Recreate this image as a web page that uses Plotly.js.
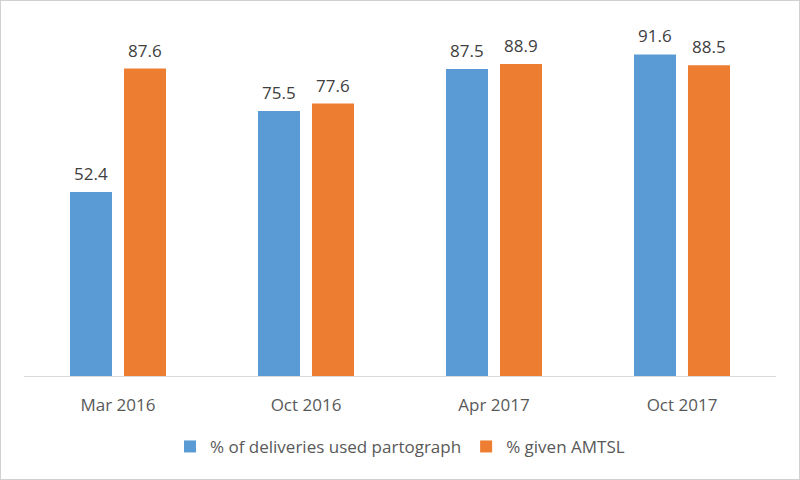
<!DOCTYPE html>
<html>
<head>
<meta charset="utf-8">
<script src="https://cdn.plot.ly/plotly-3.0.1.min.js"></script>
<style>
  html, body { margin: 0; padding: 0; background: #fff; }
  #frame { width: 800px; height: 480px; box-sizing: border-box; border: 1px solid #d0d0d0; }
  #plot { width: 798px; height: 478px; }
</style>
</head>
<body>
<div id="frame"><div id="plot"></div></div>
<script>
const periods = ["Mar 2016", "Oct 2016", "Apr 2017", "Oct 2017"];
const partograph = [52.4, 75.5, 87.5, 91.6];
const amtsl = [87.6, 77.6, 88.9, 88.5];

const fam = "Open Sans, Liberation Sans, sans-serif";
const labelFont = { family: fam, size: 17, color: "#404040" };

const traces = [
  {
    x: periods,
    y: partograph,
    name: "% of deliveries used partograph",
    type: "bar",
    marker: { color: "#5b9bd5" },
    hoverinfo: "x+y"
  },
  {
    x: periods,
    y: amtsl,
    name: "% given AMTSL",
    type: "bar",
    marker: { color: "#ed7d31" },
    hoverinfo: "x+y"
  }
];

// value labels above each bar, offset to the bar's slot in the group
const annotations = [];
periods.forEach((p, i) => {
  [[partograph, -27], [amtsl, 27]].forEach(([vals, dx]) => {
    annotations.push({
      x: p, y: vals[i], xref: "x", yref: "y",
      text: vals[i].toFixed(1),
      showarrow: false,
      xshift: dx, yshift: 5,
      yanchor: "bottom",
      font: labelFont
    });
  });
});

const layout = {
  width: 798,
  height: 478,
  margin: { l: 23, r: 23, t: 24, b: 103 },
  paper_bgcolor: "#fff",
  plot_bgcolor: "#fff",
  barmode: "group",
  bargap: 0.4255,
  bargroupgap: 0.222,
  font: { family: fam, color: "#595959" },
  annotations: annotations,
  xaxis: {
    showline: true,
    linecolor: "#d9d9d9",
    linewidth: 1,
    ticks: "",
    ticklabelstandoff: 14,
    tickfont: { size: 17, color: "#595959" },
    fixedrange: true
  },
  yaxis: {
    range: [0, 100],
    visible: false,
    showgrid: false,
    zeroline: false,
    fixedrange: true
  },
  showlegend: true,
  legend: {
    orientation: "h",
    x: 0.5,
    xanchor: "center",
    y: -0.202,
    yanchor: "middle",
    font: { size: 17, color: "#595959" },
    itemwidth: 30
  }
};

Plotly.newPlot("plot", traces, layout, { displayModeBar: false, staticPlot: true });
</script>
</body>
</html>
